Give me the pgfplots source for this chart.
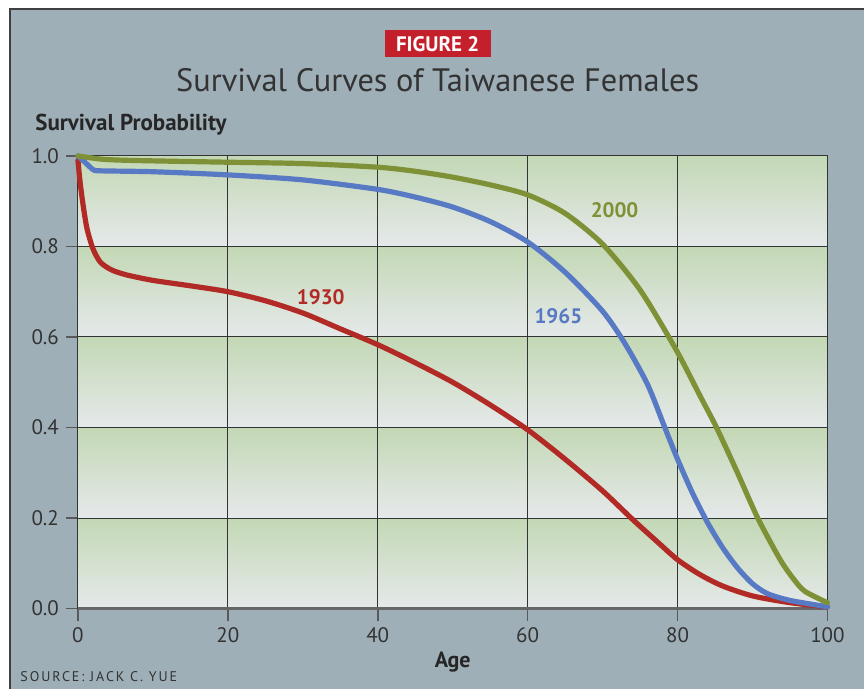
\documentclass[border=0pt]{standalone}
\usepackage{pgfplots}
\pgfplotsset{compat=1.18}
\usepackage{fontspec}
\setmainfont{PT Sans}
\definecolor{panel}{RGB}{158,175,183}
\definecolor{bandtop}{RGB}{195,216,181}
\definecolor{bandbot}{RGB}{229,233,234}
\definecolor{cRed}{RGB}{178,42,37}
\definecolor{cBlue}{RGB}{88,122,196}
\definecolor{cGreen}{RGB}{127,145,54}
\definecolor{figred}{RGB}{196,32,44}
\pgfplotsset{frame/.style={scale only axis, width=375pt, height=226.5pt,
  at={(39pt,40pt)}, anchor=south west, xmin=0, xmax=100, ymin=0, ymax=1}}
\begin{document}
\begin{tikzpicture}
\fill[white] (0,0) rectangle (432.5pt,344.5pt);
\fill[panel] (5pt,0) rectangle (432.5pt,340pt);
\draw[black!75, line width=0.6pt] (5pt,0) -- (5pt,340pt) -- (432.5pt,340pt);
\node[fill=figred, text=white, font=\bfseries\fontsize{10.5}{12}\selectfont, minimum width=53pt, minimum height=13.5pt, inner sep=0pt] at (219pt,322.5pt) {FIGURE 2};
\node[anchor=base, font=\fontsize{16.2}{19}\selectfont, text=black!80, inner sep=0pt] at (219pt,298.5pt) {Survival Curves of Taiwanese Females};
\node[anchor=base west, font=\bfseries\fontsize{11.5}{13}\selectfont, text=black!85, inner sep=0pt] at (17.5pt,279pt) {Survival Probability};
\node[anchor=base, font=\bfseries\fontsize{11}{13}\selectfont, text=black!85, inner sep=0pt] at (226.5pt,10.5pt) {Age};
\node[anchor=base west, font=\fontsize{7}{8}\selectfont\addfontfeature{LetterSpace=14}, text=black!80, inner sep=0pt] at (10pt,3.5pt) {SOURCE: JACK C. YUE};
% background bands
\begin{axis}[frame, hide axis, clip=false]
\fill[top color=bandtop, bottom color=bandbot] (axis cs:0,0) rectangle (axis cs:100,0.2);
\fill[top color=bandtop, bottom color=bandbot] (axis cs:0,0.2) rectangle (axis cs:100,0.4);
\fill[top color=bandtop, bottom color=bandbot] (axis cs:0,0.4) rectangle (axis cs:100,0.6);
\fill[top color=bandtop, bottom color=bandbot] (axis cs:0,0.6) rectangle (axis cs:100,0.8);
\fill[top color=bandtop, bottom color=bandbot] (axis cs:0,0.8) rectangle (axis cs:100,1.0);
\end{axis}
\begin{axis}[
  frame,
  clip=false,
  xtick={0,20,40,60,80,100},
  ytick={0,0.2,0.4,0.6,0.8,1.0},
  yticklabel style={/pgf/number format/.cd, fixed, fixed zerofill, precision=1},
  /pgf/number format/assume math mode=true,
  ticklabel style={font=\fontsize{10.5}{12}\selectfont, text=black!80},
  tick align=outside,
  major tick length=6pt,
  tick style={black!65, line width=0.8pt},
  xtick pos=bottom, ytick pos=left,
  grid=major,
  major grid style={black!80, line width=0.5pt},
  axis line style={black!80, line width=0.5pt},
]
\draw[black!60, line width=1.4pt] (axis cs:0,0) -- (axis cs:100,0);
\addplot[cRed, line width=2.6pt, smooth, tension=0.45, line cap=round] coordinates {
(0,0.99) (0.3,0.94) (0.7,0.89) (1.2,0.84) (2.0,0.795) (3.0,0.765) (4.5,0.748) (6.5,0.737) (10,0.725) (15,0.713) (20,0.70) (25,0.68) (30,0.653) (35,0.618) (40,0.583) (45,0.543) (50,0.50) (55,0.45) (60,0.395) (65,0.33) (70,0.26) (74,0.197) (77,0.152) (80,0.108) (83,0.075) (86,0.05) (90,0.028) (95,0.013) (100,0.004)
};
\addplot[cBlue, line width=2.6pt, smooth, tension=0.45, line cap=round] coordinates {
(0,1.0) (1,0.985) (2,0.97) (3,0.967) (10,0.965) (20,0.958) (30,0.947) (40,0.926) (45,0.909) (50,0.887) (55,0.855) (60,0.81) (65,0.743) (70,0.657) (73,0.585) (76,0.495) (78.3,0.40) (80,0.33) (82,0.255) (84,0.19) (86,0.135) (88,0.09) (90,0.055) (92,0.033) (95,0.018) (100,0.004)
};
\addplot[cGreen, line width=2.6pt, smooth, tension=0.45, line cap=round] coordinates {
(0,1.0) (3,0.993) (7,0.99) (20,0.986) (30,0.983) (40,0.975) (45,0.966) (50,0.953) (55,0.936) (60,0.914) (65,0.873) (70,0.805) (75,0.704) (79.8,0.572) (83,0.47) (85.2,0.40) (88,0.30) (90.7,0.20) (93.7,0.108) (95.5,0.065) (97,0.038) (100,0.013)
};
\node[font=\bfseries\fontsize{10.5}{12}\selectfont, text=cGreen] at (axis cs:71.6,0.881) {2000};
\node[font=\bfseries\fontsize{10.5}{12}\selectfont, text=cBlue] at (axis cs:64.1,0.645) {1965};
\node[font=\bfseries\fontsize{10.5}{12}\selectfont, text=cRed] at (axis cs:32.4,0.688) {1930};
\end{axis}
\end{tikzpicture}
\end{document}
